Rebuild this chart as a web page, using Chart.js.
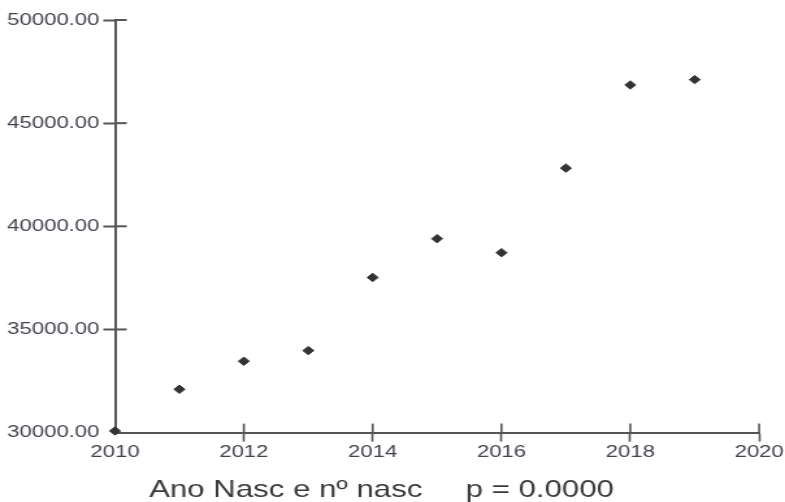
<!DOCTYPE html>
<html>
<head>
<meta charset="utf-8">
<script src="https://cdn.jsdelivr.net/npm/chart.js@4.4.1/dist/chart.umd.min.js"></script>
<style>
  html, body { margin: 0; padding: 0; background: #fff; overflow: hidden; }
  /* the reference is a stretched export, so the canvas is widened the same way */
  #chart { display: block; transform: scaleX(1.2997); transform-origin: 0 0; }
</style>
</head>
<body>
<canvas id="chart" width="604" height="502"></canvas>
<script>
const years = [2010, 2011, 2012, 2013, 2014, 2015, 2016, 2017, 2018, 2019];
const births = [30080, 32100, 33460, 33975, 37520, 39400, 38720, 42820, 46850, 47110];
const xTicks = [2010, 2012, 2014, 2016, 2018, 2020];
const yTicks = [30000, 35000, 40000, 45000, 50000];
const titleText = 'Ano Nasc e nº nasc     p = 0.0000';

const axisColor = '#555555';
const labelColor = '#44444e';
const fontFamily = '"Liberation Sans", Arial, sans-serif';

// ticks in the reference cross the axis line, chart.js only draws the outer half
const innerTicks = {
  id: 'innerTicks',
  beforeDatasetsDraw(chart) {
    const { ctx, chartArea, scales } = chart;
    ctx.save();
    ctx.strokeStyle = axisColor;
    ctx.lineWidth = 1.6;
    scales.x.ticks.forEach((t, i) => {
      if (i === 0) return;
      const px = scales.x.getPixelForValue(t.value);
      ctx.beginPath();
      ctx.moveTo(px, chartArea.bottom);
      ctx.lineTo(px, chartArea.bottom - 9);
      ctx.stroke();
    });
    ctx.lineWidth = 2;
    scales.y.ticks.forEach((t, i) => {
      if (i === 0) return;
      const py = scales.y.getPixelForValue(t.value);
      ctx.beginPath();
      ctx.moveTo(chartArea.left, py);
      ctx.lineTo(chartArea.left + 9, py);
      ctx.stroke();
    });
    ctx.restore();
  }
};

new Chart(document.getElementById('chart'), {
  type: 'scatter',
  data: {
    datasets: [{
      data: years.map((y, i) => ({ x: y, y: births[i] })),
      pointStyle: 'rectRot',
      pointRadius: 4.2,
      pointBorderWidth: 1,
      backgroundColor: '#333333',
      borderColor: '#333333',
      clip: false,
    }],
  },
  options: {
    responsive: false,
    devicePixelRatio: 1,
    animation: false,
    layout: { padding: { top: 20, right: 17, left: 0, bottom: 0 } },
    plugins: {
      legend: { display: false },
      tooltip: { enabled: false },
      title: {
        display: true,
        position: 'bottom',
        text: titleText,
        color: '#3a3a3a',
        font: { family: fontFamily, size: 24, weight: 'normal', lineHeight: 1 },
        padding: { top: 14, bottom: 0 },
      },
    },
    scales: {
      x: {
        type: 'linear',
        min: 2010,
        max: 2020,
        afterBuildTicks: s => { s.ticks = xTicks.map(v => ({ value: v })); },
        border: { display: true, color: axisColor, width: 2 },
        grid: {
          drawOnChartArea: false,
          tickLength: 9,
          tickWidth: 1.6,
          color: c => c.index === 0 ? 'rgba(0,0,0,0)' : axisColor,
        },
        ticks: {
          color: labelColor,
          padding: 1,
          maxRotation: 0,
          font: { family: fontFamily, size: 17 },
          callback: v => String(v),
        },
      },
      y: {
        type: 'linear',
        min: 30000,
        max: 50000,
        afterBuildTicks: s => { s.ticks = yTicks.map(v => ({ value: v })); },
        afterFit: s => { s.width = 88.5; },
        border: { display: true, color: axisColor, width: 2 },
        grid: {
          drawOnChartArea: false,
          tickLength: 9,
          tickWidth: 2,
          color: c => c.index === 0 ? 'rgba(0,0,0,0)' : axisColor,
        },
        ticks: {
          color: labelColor,
          padding: 3,
          font: { family: fontFamily, size: 17 },
          callback: v => Number(v).toFixed(2),
        },
      },
    },
  },
  plugins: [innerTicks],
});
</script>
</body>
</html>
